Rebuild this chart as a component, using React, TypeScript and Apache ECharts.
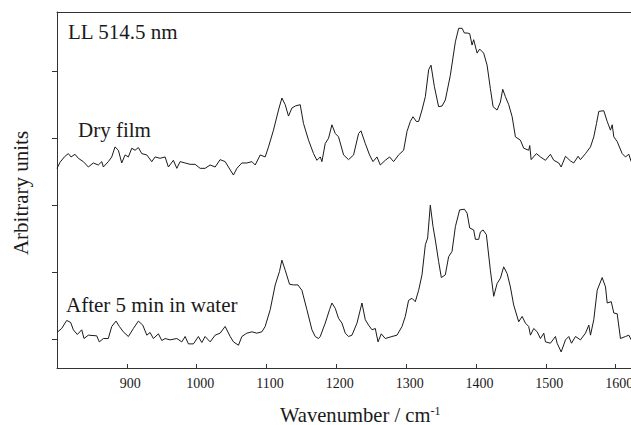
import React, { useEffect, useRef } from "react";
import * as echarts from "echarts";

// Raman spectra, wavenumber (cm-1) vs intensity (arbitrary units, offset)
const dryWavenumber = [
  800.0, 804.3, 810.5, 816.2, 820.1, 825.8, 830.5, 837.7, 844.9, 852.0, 859.2, 864.1, 866.4, 873.5, 878.4, 883.1,
  887.9, 892.7, 897.5, 902.2, 907.1, 911.8, 916.5, 921.4, 928.6, 935.7, 940.5, 947.6, 954.8, 959.5, 966.7, 971.6,
  976.3, 983.5, 990.6, 997.8, 1005.0, 1012.1, 1019.3, 1026.5, 1033.6, 1040.8, 1045.5, 1052.7, 1057.6, 1064.7,
  1071.9, 1079.1, 1083.8, 1091.0, 1098.1, 1102.9, 1110.0, 1117.2, 1122.1, 1126.8, 1131.5, 1136.4, 1141.1, 1148.3,
  1153.0, 1160.2, 1167.4, 1172.2, 1177.0, 1179.4, 1184.1, 1188.9, 1193.7, 1198.5, 1203.2, 1210.4, 1217.5, 1224.7,
  1231.9, 1235.3, 1241.5, 1247.6, 1252.5, 1258.2, 1263.0, 1270.1, 1276.3, 1282.0, 1289.2, 1296.4, 1301.2, 1306.0,
  1309.8, 1314.6, 1317.9, 1322.7, 1327.5, 1332.2, 1335.6, 1340.4, 1346.5, 1351.4, 1356.1, 1363.3, 1370.5, 1375.2,
  1380.1, 1383.4, 1387.3, 1391.0, 1394.4, 1396.7, 1401.6, 1405.3, 1411.0, 1415.9, 1420.6, 1424.5, 1430.2, 1435.0,
  1438.3, 1442.1, 1446.9, 1451.8, 1456.5, 1463.6, 1468.4, 1475.5, 1477.0, 1479.0, 1486.6, 1492.3, 1499.5, 1506.6,
  1511.4, 1518.6, 1522.0, 1528.2, 1535.3, 1540.0, 1546.3, 1549.6, 1556.8, 1564.0, 1568.7, 1572.6, 1575.9, 1583.0,
  1587.9, 1592.6, 1595.1, 1597.4, 1602.2, 1609.4, 1614.1, 1618.9, 1622.3,
];
const dryIntensity = [
  2.98, 3.07, 3.15, 3.2, 3.15, 3.19, 3.13, 3.08, 3.0, 3.06, 3.03, 3.08, 3.0, 3.08, 3.15, 3.3,
  3.25, 3.06, 3.18, 3.15, 3.28, 3.25, 3.29, 3.2, 3.18, 3.08, 3.15, 3.13, 3.15, 3.0, 3.1, 2.98,
  3.08, 3.06, 3.04, 3.04, 2.98, 2.98, 3.03, 3.0, 3.11, 3.08, 3.0, 2.88, 2.98, 3.06,
  3.06, 3.08, 3.03, 3.18, 3.15, 3.3, 3.55, 3.85, 4.03, 3.93, 3.76, 3.88, 3.91, 3.93,
  3.65, 3.4, 3.2, 3.1, 3.15, 3.08, 3.35, 3.43, 3.63, 3.5, 3.45, 3.18, 3.11, 3.18,
  3.5, 3.54, 3.35, 3.18, 3.08, 3.15, 3.03, 3.1, 3.15, 3.08, 3.18, 3.25, 3.53, 3.68,
  3.75, 3.68, 3.68, 3.85, 4.05, 4.45, 4.52, 4.2, 3.9, 3.91, 4.0, 4.37, 4.87, 5.07,
  5.07, 5.0, 5.0, 4.99, 4.82, 4.9, 4.7, 4.76, 4.7, 4.52, 4.17, 3.9, 3.85, 3.97,
  4.16, 4.05, 3.93, 3.75, 3.45, 3.4, 3.28, 3.25, 3.32, 3.11, 3.2, 3.15, 3.1, 3.19,
  3.1, 3.06, 3.0, 3.16, 3.09, 3.06, 3.16, 3.11, 3.2, 3.3, 3.45, 3.65, 3.83, 3.84,
  3.68, 3.55, 3.63, 3.45, 3.38, 3.2, 3.15, 3.19, 3.08,
];

const wetWavenumber = [
  800.0, 806.7, 813.9, 819.6, 823.4, 829.1, 835.4, 838.7, 844.9, 856.9, 860.6, 866.4, 873.5, 878.4, 884.6, 889.3,
  895.0, 902.2, 909.4, 916.5, 922.8, 928.6, 933.3, 938.0, 945.2, 950.1, 954.8, 962.0, 971.6, 978.7, 983.5, 988.2,
  995.4, 1002.5, 1007.4, 1012.1, 1019.3, 1026.5, 1033.6, 1040.8, 1048.0, 1052.7, 1059.9, 1064.7, 1071.9, 1079.1,
  1086.2, 1093.4, 1098.1, 1105.3, 1112.5, 1118.6, 1122.1, 1126.8, 1133.0, 1138.7, 1145.0, 1150.7, 1157.9, 1165.1,
  1169.8, 1174.5, 1177.0, 1184.1, 1190.3, 1193.7, 1198.5, 1203.2, 1208.1, 1212.8, 1217.5, 1222.4, 1229.6, 1236.7,
  1241.5, 1246.2, 1251.1, 1255.8, 1259.7, 1264.4, 1270.1, 1279.7, 1286.9, 1294.1, 1298.8, 1303.5, 1308.4, 1313.1,
  1317.9, 1322.7, 1327.5, 1330.8, 1334.6, 1338.5, 1341.8, 1346.5, 1350.4, 1356.1, 1360.8, 1365.7, 1370.5, 1376.6,
  1383.4, 1387.3, 1391.0, 1396.7, 1399.2, 1403.9, 1406.3, 1410.2, 1414.9, 1420.6, 1425.4, 1430.2, 1435.0, 1439.7,
  1444.6, 1449.3, 1454.0, 1461.2, 1466.1, 1470.8, 1475.5, 1478.0, 1482.7, 1487.6, 1492.3, 1497.1, 1499.5, 1506.6,
  1513.8, 1516.2, 1522.0, 1528.2, 1532.9, 1536.8, 1542.5, 1549.6, 1556.8, 1561.6, 1564.0, 1568.7, 1573.6, 1580.7,
  1585.5, 1587.9, 1593.7, 1597.4, 1602.2, 1606.9, 1614.1, 1618.9, 1622.3,
];
const wetIntensity = [
  0.53, 0.59, 0.71, 0.68, 0.57, 0.5, 0.57, 0.44, 0.49, 0.48, 0.39, 0.44, 0.44, 0.62, 0.7, 0.62,
  0.54, 0.47, 0.59, 0.7, 0.64, 0.49, 0.53, 0.44, 0.51, 0.41, 0.44, 0.42, 0.44, 0.39, 0.47, 0.36,
  0.36, 0.47, 0.38, 0.47, 0.39, 0.49, 0.52, 0.62, 0.47, 0.39, 0.34, 0.47, 0.52, 0.54,
  0.52, 0.54, 0.62, 0.87, 1.24, 1.44, 1.61, 1.46, 1.25, 1.24, 1.24, 1.16, 0.87, 0.57,
  0.47, 0.44, 0.47, 0.67, 0.87, 0.97, 0.89, 0.74, 0.67, 0.52, 0.47, 0.49, 0.67, 0.97,
  0.72, 0.64, 0.57, 0.59, 0.39, 0.51, 0.44, 0.47, 0.49, 0.62, 0.77, 1.01, 1.04, 0.99,
  1.16, 1.39, 1.84, 1.94, 2.43, 2.11, 1.91, 1.59, 1.35, 1.39, 1.66, 1.74, 2.11, 2.36,
  2.37, 2.31, 2.09, 2.06, 1.92, 1.92, 2.03, 2.06, 1.99, 1.46, 1.07, 1.26, 1.34, 1.51,
  1.41, 1.21, 0.94, 0.69, 0.77, 0.67, 0.62, 0.49, 0.59, 0.54, 0.44, 0.52, 0.39, 0.37,
  0.47, 0.37, 0.24, 0.42, 0.47, 0.37, 0.47, 0.42, 0.52, 0.64, 0.49, 0.72, 1.16, 1.35,
  1.21, 0.97, 0.99, 0.82, 0.81, 0.44, 0.47, 0.49, 0.42,
];

const xTickLabels = [900, 1000, 1100, 1200, 1300, 1400, 1500, 1600];
const yTickValues = [0.433, 1.433, 2.433, 3.433, 4.433];

const SERIF = "'Liberation Serif', 'DejaVu Serif', serif";
const INK = "#1a1a1a";

export default function App() {
  const ref = useRef<HTMLDivElement>(null);

  useEffect(() => {
    document.body.style.margin = "0";
    if (!ref.current) return;
    const chart = echarts.init(ref.current, undefined, { renderer: "svg" });
    const dry = dryWavenumber.map((x, i) => [x, dryIntensity[i]]);
    const wet = wetWavenumber.map((x, i) => [x, wetIntensity[i]]);
    chart.setOption({
      animation: false,
      backgroundColor: "#ffffff",
      grid: {
        left: 57,
        right: 0,
        top: 12,
        bottom: 57,
        containLabel: false,
        outerBoundsMode: "none",
      },
      xAxis: [
        {
          type: "value",
          min: 800,
          max: 1622,
          interval: 100,
          splitLine: { show: false },
          axisLine: { show: true, lineStyle: { color: "#333", width: 1 } },
          axisTick: { show: true, inside: true, length: 4, lineStyle: { color: "#333" } },
          axisLabel: {
            show: true,
            margin: 8,
            padding: [0, 0, 0, 7],
            hideOverlap: false,
            fontFamily: SERIF,
            fontSize: 14,
            color: INK,
            formatter: (v: number) => (xTickLabels.includes(v) ? String(v) : ""),
          },
        },
        {
          type: "value",
          position: "top",
          min: 800,
          max: 1622,
          splitLine: { show: false },
          axisLine: { show: true, lineStyle: { color: "#333", width: 1 } },
          axisTick: { show: false },
          axisLabel: { show: false },
        },
      ],
      yAxis: {
        type: "value",
        min: 0,
        max: 5.3134,
        splitLine: { show: false },
        axisLine: { show: true, lineStyle: { color: "#333", width: 1 } },
        axisTick: {
          show: true,
          inside: false,
          length: 5,
          customValues: yTickValues,
          lineStyle: { color: "#333" },
        },
        axisLabel: { show: false },
      },
      series: [
        {
          type: "line",
          data: dry,
          showSymbol: false,
          smooth: false,
          lineStyle: { color: INK, width: 1 },
          xAxisIndex: 0,
        },
        {
          type: "line",
          data: wet,
          showSymbol: false,
          smooth: false,
          lineStyle: { color: INK, width: 1 },
          xAxisIndex: 0,
        },
      ],
      graphic: [
        {
          type: "text",
          x: 68,
          y: 32,
          style: { text: "LL 514.5 nm", font: `21px ${SERIF}`, fill: INK, textVerticalAlign: "middle" },
        },
        {
          type: "text",
          x: 78,
          y: 130,
          style: { text: "Dry film", font: `21px ${SERIF}`, fill: INK, textVerticalAlign: "middle" },
        },
        {
          type: "text",
          x: 66,
          y: 305,
          style: { text: "After 5 min in water", font: `21px ${SERIF}`, fill: INK, textVerticalAlign: "middle" },
        },
        {
          type: "text",
          x: 21,
          y: 193,
          rotation: Math.PI / 2,
          style: {
            text: "Arbitrary units",
            font: `21px ${SERIF}`,
            fill: INK,
            textAlign: "center",
            textVerticalAlign: "middle",
          },
        },
        {
          type: "text",
          x: 280,
          y: 415,
          style: {
            text: "{a|Wavenumber / cm}{b|-1}",
            fill: INK,
            textAlign: "left",
            textVerticalAlign: "middle",
            rich: {
              a: { fontFamily: SERIF, fontSize: 20.6, fill: INK, color: INK },
              b: { fontFamily: SERIF, fontSize: 12, fill: INK, color: INK, verticalAlign: "top" },
            },
          },
        },
      ],
    });
    return () => chart.dispose();
  }, []);

  return <div ref={ref} style={{ width: 631, height: 425 }} />;
}
